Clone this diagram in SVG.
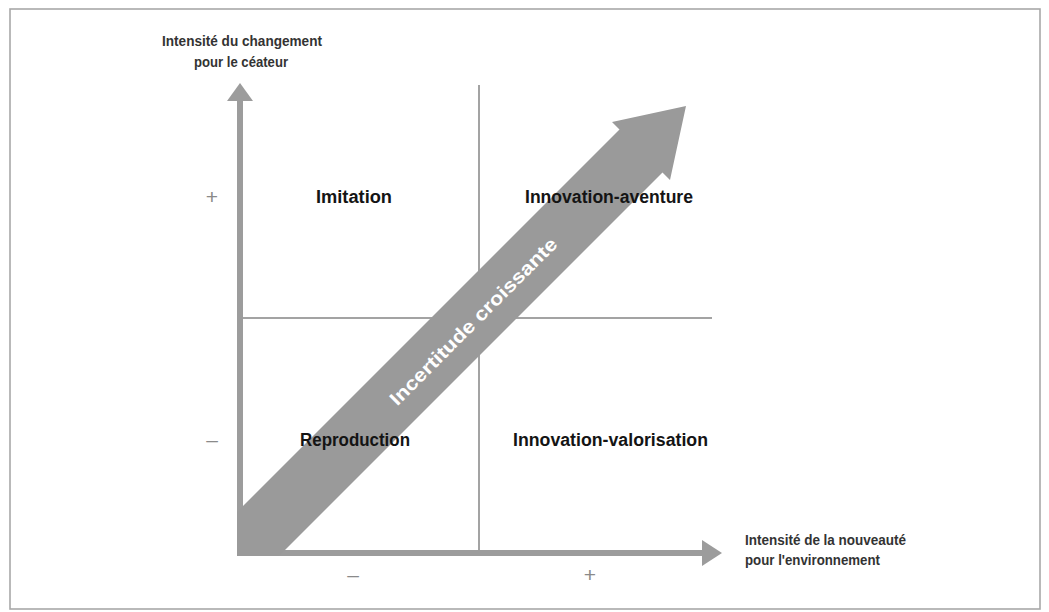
<svg xmlns="http://www.w3.org/2000/svg" width="1049" height="612" viewBox="0 0 1049 612">
  <style>
    .quad { font-family: "Liberation Sans", Arial, sans-serif; font-weight: bold; font-size: 18px; fill: #141414; text-anchor: middle; }
    .axlab { font-family: "Liberation Sans", Arial, sans-serif; font-weight: bold; font-size: 14px; fill: #333; }
    .sign { font-family: "Liberation Sans", Arial, sans-serif; font-size: 21px; fill: #8a8a8a; text-anchor: middle; }
    .axis { fill: #9c9c9c; }
    .grid { stroke: #858585; stroke-width: 1.5; fill: none; }
  </style>
  <rect x="0" y="0" width="1049" height="612" fill="#ffffff"/>
  <rect x="10" y="9" width="1030" height="600" fill="none" stroke="#a8a8a8" stroke-width="1.6"/>

  <g id="connectors">
    <line class="grid" x1="479" y1="85" x2="479" y2="553"/>
    <line class="grid" x1="243" y1="318" x2="712" y2="318"/>
    <rect class="axis" x="237" y="99" width="6" height="457"/>
    <polygon class="axis" points="240,83 253,101 227,101"/>
    <rect class="axis" x="237" y="550" width="467" height="6"/>
    <polygon class="axis" points="722,553 702,540 702,566"/>
    <polygon id="band" fill="#9a9a9a" points="237,512 619.5,129.5 612,122 686,106 670,180 662.5,172.5 279,556 237,556"/>
  </g>

  <g id="band-label">
    <text transform="translate(473,321) rotate(-45)" x="0" y="7" text-anchor="middle" font-family="Liberation Sans, Arial, sans-serif" font-weight="bold" font-size="19" fill="#ffffff" textLength="228" lengthAdjust="spacingAndGlyphs">Incertitude croissante</text>
  </g>

  <g id="y-axis-label">
    <text class="axlab" x="242" y="46" text-anchor="middle" textLength="160" lengthAdjust="spacingAndGlyphs">Intensité du changement</text>
    <text class="axlab" x="241" y="67" text-anchor="middle" textLength="94" lengthAdjust="spacingAndGlyphs">pour le céateur</text>
  </g>

  <g id="x-axis-label">
    <text class="axlab" x="745" y="545" textLength="161" lengthAdjust="spacingAndGlyphs">Intensité de la nouveauté</text>
    <text class="axlab" x="745" y="565" textLength="135" lengthAdjust="spacingAndGlyphs">pour l'environnement</text>
  </g>

  <g id="signs">
    <text class="sign" x="212" y="204">+</text>
    <text class="sign" x="212" y="447">–</text>
    <text class="sign" x="353" y="582">–</text>
    <text class="sign" x="590" y="582">+</text>
  </g>

  <g id="node-imitation">
    <text class="quad" x="354" y="203" textLength="76" lengthAdjust="spacingAndGlyphs">Imitation</text>
  </g>
  <g id="node-innovation-aventure">
    <text class="quad" x="609" y="203" textLength="168" lengthAdjust="spacingAndGlyphs">Innovation-aventure</text>
  </g>
  <g id="node-reproduction">
    <text class="quad" x="355" y="446" textLength="110" lengthAdjust="spacingAndGlyphs">Reproduction</text>
  </g>
  <g id="node-innovation-valorisation">
    <text class="quad" x="610.5" y="446" textLength="195" lengthAdjust="spacingAndGlyphs">Innovation-valorisation</text>
  </g>
</svg>
